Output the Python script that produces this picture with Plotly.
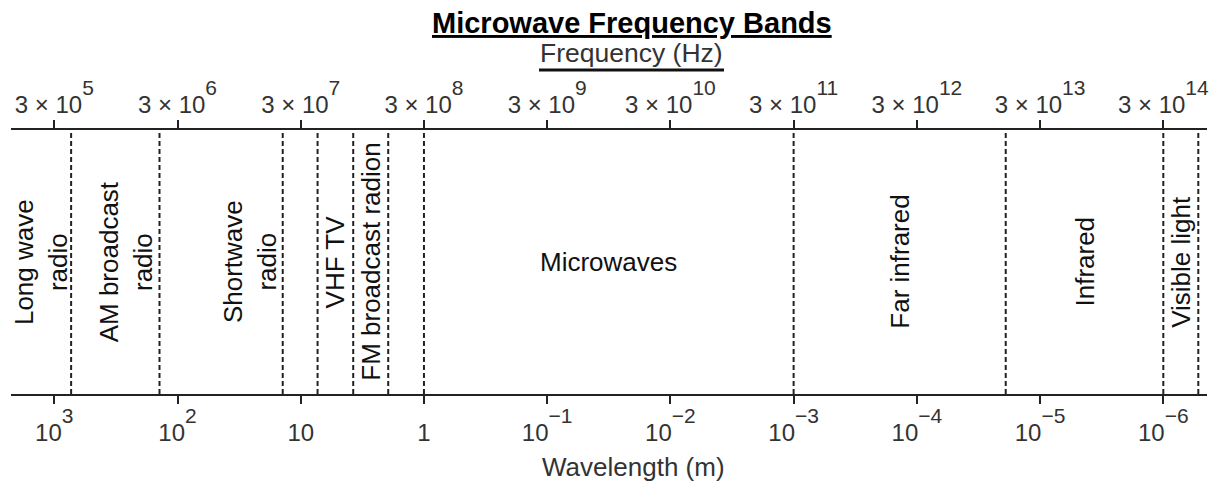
import math
import plotly.graph_objects as go

# ---------------- data ----------------
C_LIGHT = 3e8  # m/s, used to relate wavelength and frequency axes

LAMBDA_MAX = 2245.0     # wavelength at left end of axis (m)
LAMBDA_MIN = 4.42e-7    # wavelength at right end of axis (m)

# dashed band boundaries (wavelength, m)
boundaries = [730, 140, 14, 7.3, 3.75, 1.95, 1, 1e-3, 1.9e-5, 1e-6, 5.2e-7]

band_names = ["Long wave<br>radio", "AM broadcast<br>radio", "Shortwave<br>radio",
              "VHF TV", "FM broadcast radion", "Microwaves", "Far infrared",
              "Infrared", "Visible light"]
band_long = [LAMBDA_MAX, 730, 140, 7.3, 3.75, 1, 1e-3, 1.9e-5, 1e-6]
band_short = [730, 140, 14, 3.75, 1.95, 1e-3, 1.9e-5, 1e-6, 5.2e-7]

wl_tickvals = [1e3, 1e2, 1e1, 1, 1e-1, 1e-2, 1e-3, 1e-4, 1e-5, 1e-6]
wl_exponents = ["3", "2", "", "", "\u22121", "\u22122", "\u22123", "\u22124", "\u22125", "\u22126"]
wl_bases = ["10", "10", "10", "1", "10", "10", "10", "10", "10", "10"]

freq_tickvals = [3e5, 3e6, 3e7, 3e8, 3e9, 3e10, 3e11, 3e12, 3e13, 3e14]
freq_exponents = ["5", "6", "7", "8", "9", "10", "11", "12", "13", "14"]

title_text = "Microwave Frequency Bands"
freq_title = "Frequency (Hz)"
wl_title = "Wavelength (m)"

# ---------------- figure ----------------
FONT = "Liberation Sans, Arial, Helvetica, sans-serif"
INK = "#222222"


def sup(e):
    if not e:
        return ""
    return "<sup><span style='font-size:21px;baseline-shift:8px'>%s</span></sup>" % e


wl_ticktext = [b + sup(e) for b, e in zip(wl_bases, wl_exponents)]
freq_ticktext = ["3 \u00d7 10" + sup(e) for e in freq_exponents]

fig = go.Figure()

# dashed boundaries
xs, ys = [], []
for b in boundaries:
    xs += [b, b, None]
    ys += [0, 1, None]
fig.add_trace(go.Scatter(x=xs, y=ys, mode="lines", xaxis="x", yaxis="y",
                         line=dict(color=INK, width=2, dash="5px,3px"),
                         hoverinfo="skip", showlegend=False))

# invisible trace to activate frequency axis
fig.add_trace(go.Scatter(x=[C_LIGHT / LAMBDA_MAX, C_LIGHT / LAMBDA_MIN], y=[0.5, 0.5],
                         mode="lines", xaxis="x2", yaxis="y",
                         line=dict(width=0, color="rgba(0,0,0,0)"),
                         hoverinfo="skip", showlegend=False))

# band labels
xshift = {"AM broadcast<br>radio": 11, "Shortwave<br>radio": 29}
for name, a, b in zip(band_names, band_long, band_short):
    xc = (math.log10(a) + math.log10(b)) / 2
    fig.add_annotation(x=xc, y=0.5, xref="x", yref="y", text=name,
                       textangle=0 if name == "Microwaves" else -90,
                       showarrow=False, xshift=xshift.get(name, 0),
                       font=dict(family=FONT, size=26, color="#111111"))

# titles
fig.add_annotation(x=629.5 / 1213, y=1.405, xref="paper", yref="paper",
                   text="<b><u>%s</u></b>" % title_text, showarrow=False,
                   xanchor="center", yanchor="middle",
                   font=dict(family=FONT, size=29, color="#000000"))
fig.add_annotation(x=(631 - 11) / 1196, y=1.29, xref="paper", yref="paper",
                   text=freq_title, showarrow=False,
                   xanchor="center", yanchor="middle",
                   font=dict(family=FONT, size=26.5, color="#333333"))
# underline bar beneath the frequency axis title
fig.add_shape(type="line", xref="paper", yref="paper",
              x0=(539 - 11) / 1196, x1=(724 - 11) / 1196,
              y0=1 + 60 / 264, y1=1 + 60 / 264,
              line=dict(color="#111111", width=3))
fig.add_annotation(x=(633 - 11) / 1196, y=-0.275, xref="paper", yref="paper",
                   text=wl_title, showarrow=False,
                   xanchor="center", yanchor="middle",
                   font=dict(family=FONT, size=26, color="#333333"))

axis_common = dict(type="log", showgrid=False, zeroline=False, showline=True,
                   linecolor=INK, linewidth=2, ticks="outside", ticklen=8,
                   tickwidth=2, tickcolor=INK, automargin=False,
                   tickfont=dict(family=FONT, size=24, color="#333333"),
                   fixedrange=True)

fig.update_layout(
    width=1213, height=482,
    margin=dict(l=11, r=6, t=130, b=88, autoexpand=False),
    paper_bgcolor="white", plot_bgcolor="white",
    showlegend=False,
    xaxis=dict(range=[math.log10(LAMBDA_MAX), math.log10(LAMBDA_MIN)],
               tickvals=wl_tickvals, ticktext=wl_ticktext, side="bottom",
               anchor="y", ticklabelstandoff=8, **axis_common),
    xaxis2=dict(range=[math.log10(C_LIGHT / LAMBDA_MAX), math.log10(C_LIGHT / LAMBDA_MIN)],
                tickvals=freq_tickvals, ticktext=freq_ticktext, side="top",
                overlaying="x", anchor="y", ticklabelstandoff=-3, **axis_common),
    yaxis=dict(range=[0, 1], visible=False, fixedrange=True, automargin=False),
)

fig.write_html("out.html", config={"displayModeBar": False},
               post_script="document.body.style.margin='0px';document.body.style.padding='0px';")
